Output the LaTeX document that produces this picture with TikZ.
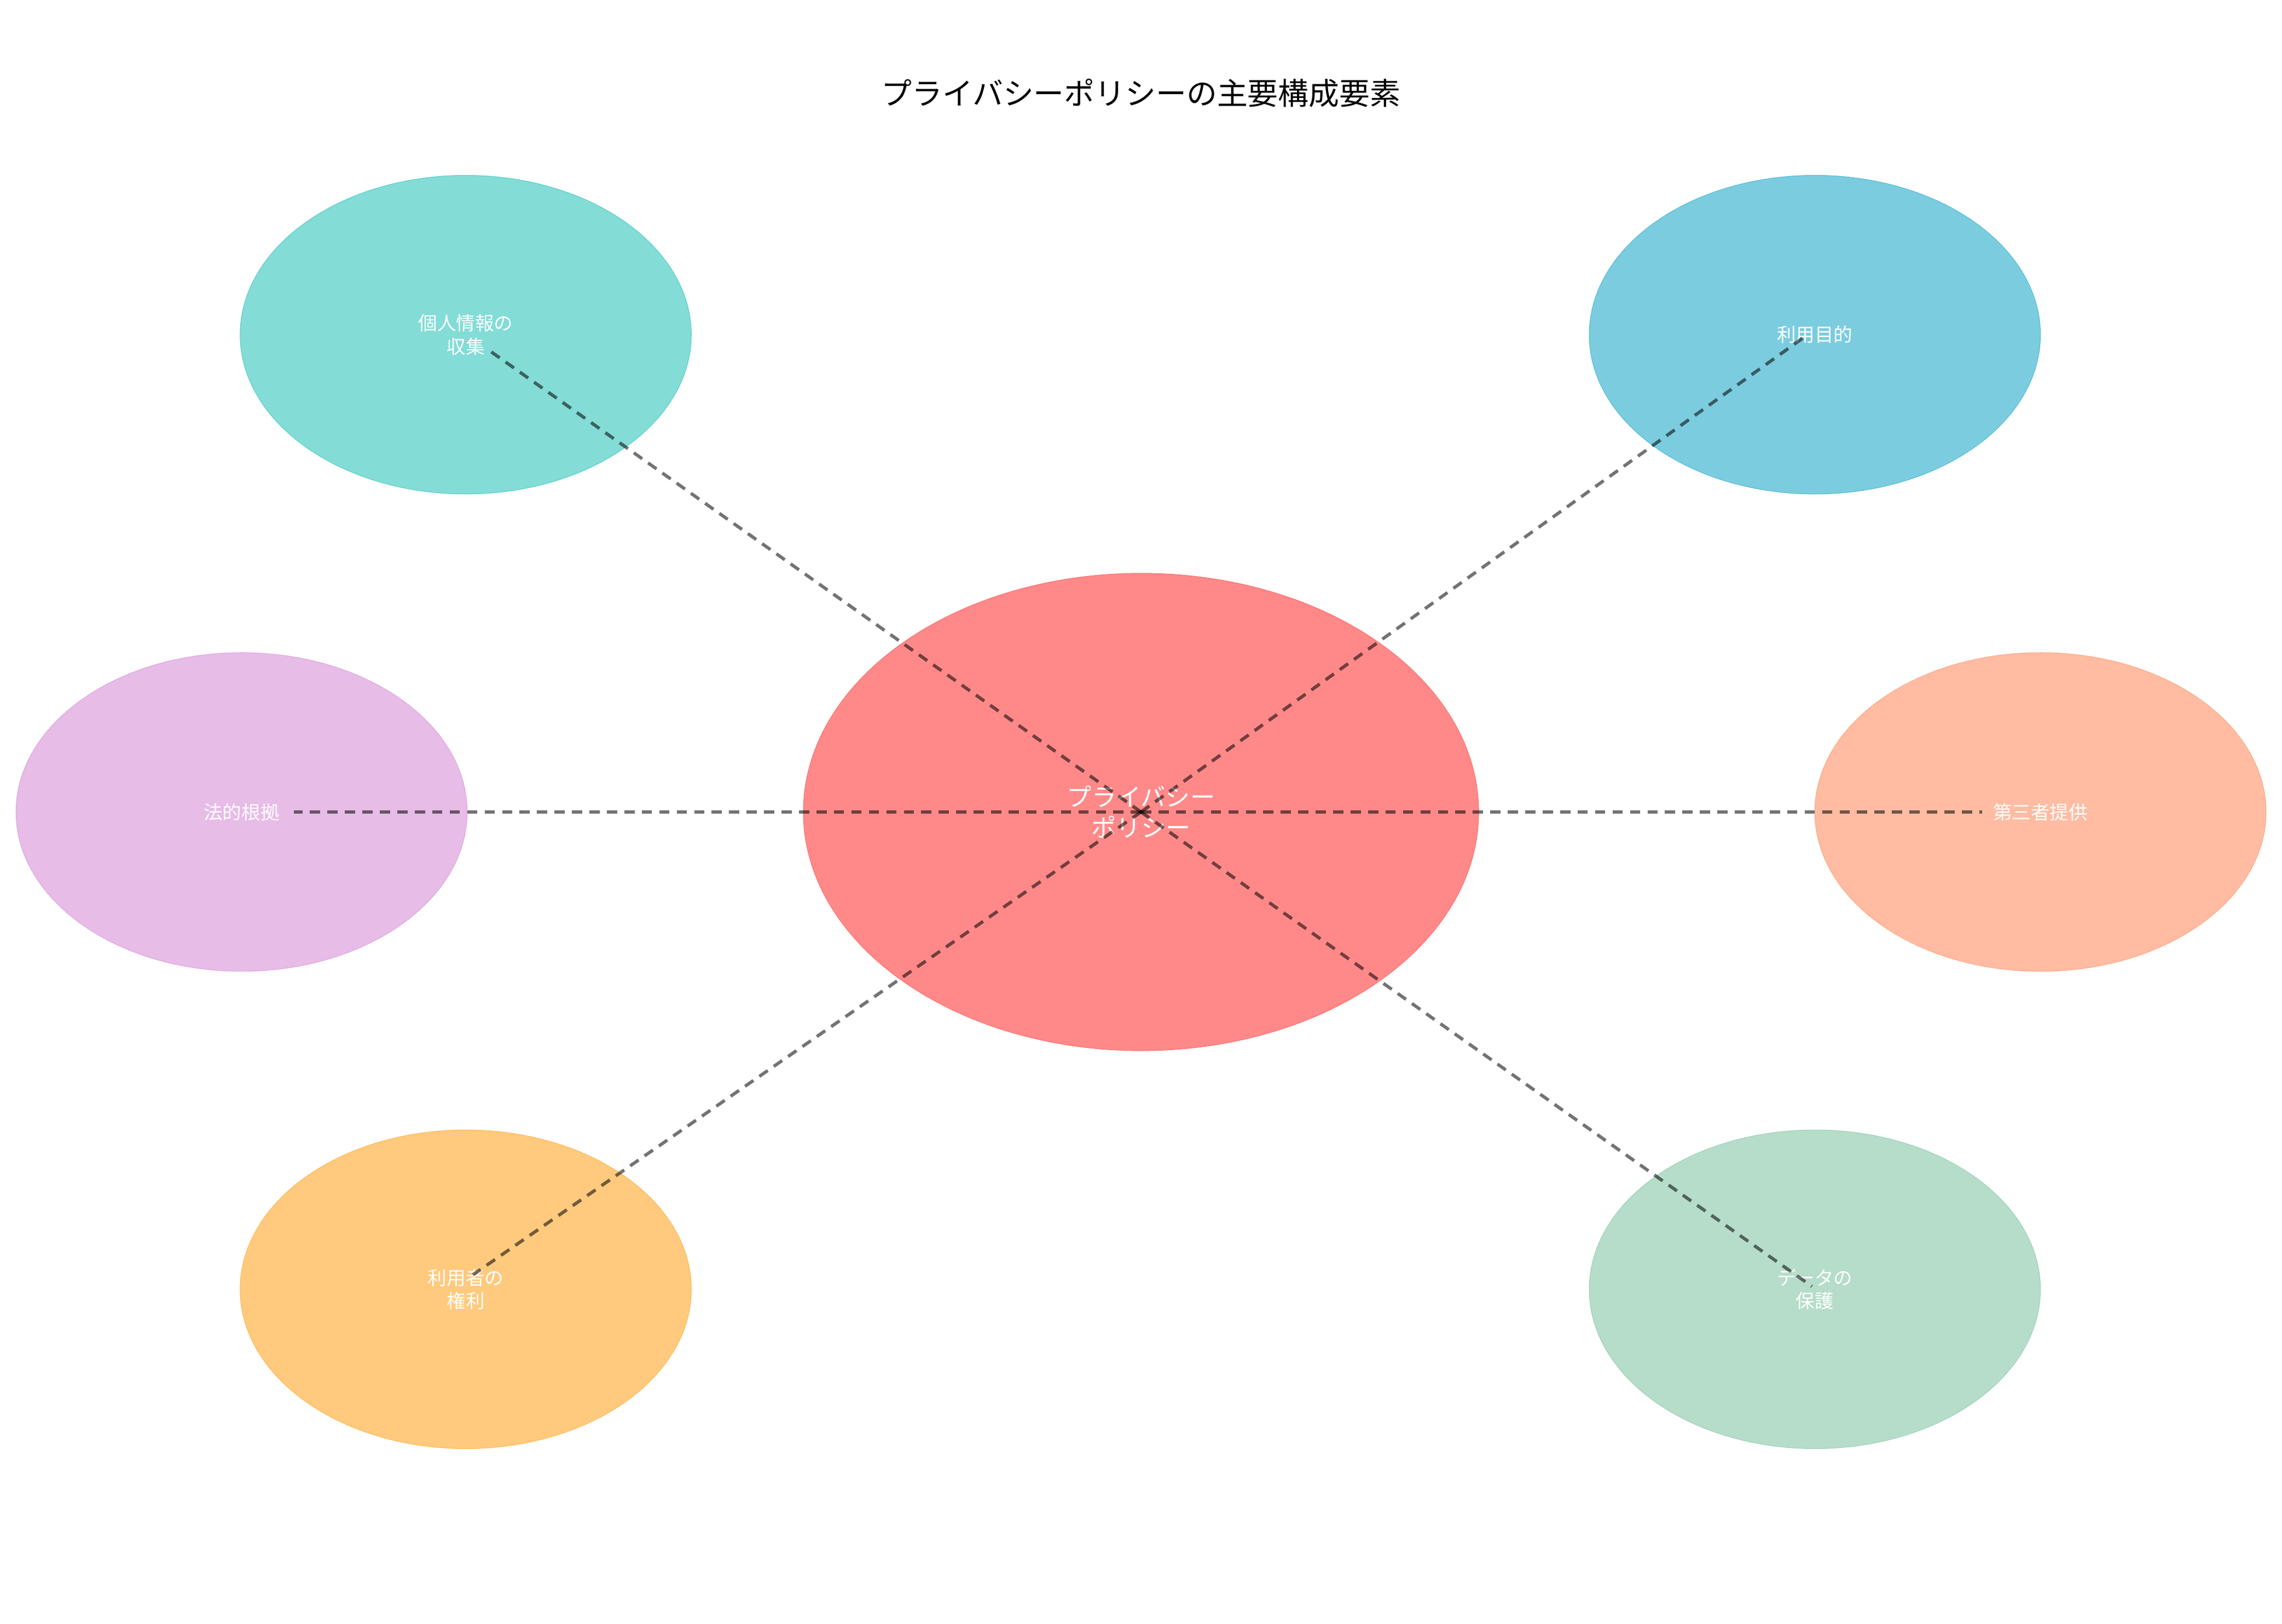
\documentclass[tikz,border=0pt]{standalone}
\usepackage{fontspec}
\setmainfont{Noto Sans CJK JP}
\usetikzlibrary{shapes.geometric}
\definecolor{cCenter}{HTML}{FF6B6B}
\definecolor{cCollect}{HTML}{4ECDC4}
\definecolor{cPurpose}{HTML}{45B7D1}
\definecolor{cLegal}{HTML}{DDA0DD}
\definecolor{cThird}{HTML}{FFA07A}
\definecolor{cRights}{HTML}{FFB347}
\definecolor{cProtect}{HTML}{96CEB4}
\begin{document}
\begin{tikzpicture}[
      x=1pt,y=-1pt,
      bubble/.style={ellipse,draw=#1,fill=#1,fill opacity=0.7,draw opacity=0.9,minimum width=310pt,minimum height=219pt,text=white,text opacity=1,align=center,font=\fontsize{13}{16}\selectfont},
      hub/.style={ellipse,draw=cCenter,fill=cCenter,fill opacity=0.8,minimum width=464pt,minimum height=328pt,text=white,text opacity=1,align=center,font=\fontsize{17}{21}\selectfont},
      link/.style={thick,densely dashed,dash pattern=on 7pt off 5pt,line width=2.2pt,black,opacity=0.55}
    ]
    \useasboundingbox (0,0) rectangle (1568,1116);
    % Title.
    \node[font=\fontsize{21}{25}\selectfont] (title) at (784,64) {プライバシーポリシーの主要構成要素};
    % Draw the hub and the topics.
    \node[hub] (policy) at (784,558) {プライバシー\\ポリシー};
    \node[bubble=cCollect] (collect) at (320,230) {個人情報の\\収集};
    \node[bubble=cPurpose] (purpose) at (1247,230) {利用目的};
    \node[bubble=cLegal] (legal) at (166,558) {法的根拠};
    \node[bubble=cThird] (third) at (1402,558) {第三者提供};
    \node[bubble=cRights] (rights) at (320,886) {利用者の\\権利};
    \node[bubble=cProtect] (protect) at (1247,886) {データの\\保護};
    % Draw the links.
    \coordinate (c) at (784,558);
    \draw[link] (c) -- ([shift={(15,10)}]collect.center);
    \draw[link] (c) -- ([shift={(-5,0)}]purpose.center);
    \draw[link] (c) -- ([shift={(36,0)}]legal.center);
    \draw[link] (c) -- ([shift={(-40,0)}]third.center);
    \draw[link] (c) -- ([shift={(5,-10)}]rights.center);
    \draw[link] (c) -- ([shift={(-2,-2)}]protect.center);
\end{tikzpicture}
\end{document}
